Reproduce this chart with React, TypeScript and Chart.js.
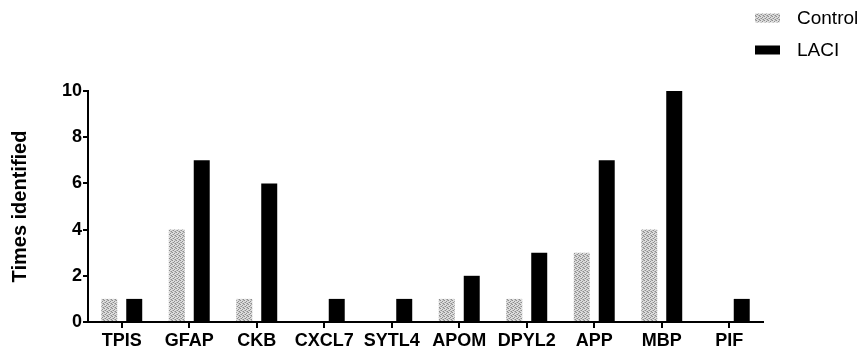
import React, { useEffect, useRef } from 'react';
import { Chart, registerables } from 'chart.js';

Chart.register(...registerables);

const categories = ['TPIS', 'GFAP', 'CKB', 'CXCL7', 'SYTL4', 'APOM', 'DPYL2', 'APP', 'MBP', 'PIF'];
const controlValues = [1, 4, 1, 0, 0, 1, 1, 3, 4, 0];
const laciValues = [1, 7, 6, 1, 1, 2, 3, 7, 10, 1];
const seriesLabels = ['Control', 'LACI'];
const yAxisTitle = 'Times identified';
const yMin = 0;
const yMax = 10;
const yStep = 2;

const FONT = '"Liberation Sans", Arial, Helvetica, sans-serif';

function makePattern(): CanvasPattern | string {
  const pc = document.createElement('canvas');
  pc.width = 4;
  pc.height = 4;
  const c = pc.getContext('2d');
  if (!c) return '#c8c8c8';
  c.fillStyle = '#dcdcdc';
  c.fillRect(0, 0, 4, 4);
  c.fillStyle = '#8e8e8e';
  c.fillRect(0, 0, 1, 1);
  c.fillRect(2, 1, 1, 1);
  c.fillRect(1, 2, 1, 1);
  c.fillRect(3, 3, 1, 1);
  c.fillStyle = '#b4b4b4';
  c.fillRect(2, 3, 1, 1);
  c.fillRect(0, 2, 1, 1);
  c.fillRect(3, 0, 1, 1);
  const p = c.createPattern(pc, 'repeat');
  return p || '#c8c8c8';
}

const legendPlugin = {
  id: 'customLegend',
  afterDraw(chart: any) {
    const ctx = chart.ctx;
    ctx.save();
    const rows = [18, 50];
    chart.data.datasets.forEach((ds: any, i: number) => {
      const y = rows[i];
      ctx.fillStyle = ds.backgroundColor;
      ctx.fillRect(755, y - 4.5, 25, 9);
      ctx.fillStyle = '#000';
      ctx.font = `19px ${FONT}`;
      ctx.textBaseline = 'middle';
      ctx.textAlign = 'left';
      ctx.fillText(ds.label, 797, y + 1);
    });
    ctx.restore();
  },
};

export default function App() {
  const ref = useRef<HTMLCanvasElement>(null);

  useEffect(() => {
    if (!ref.current) return;
    const pattern = makePattern();
    const chart = new Chart(ref.current, {
      type: 'bar',
      data: {
        labels: categories,
        datasets: [
          {
            label: seriesLabels[0],
            data: controlValues,
            backgroundColor: pattern as any,
            borderWidth: 0,
            categoryPercentage: 0.74,
            barPercentage: 0.64,
          },
          {
            label: seriesLabels[1],
            data: laciValues,
            backgroundColor: '#000000',
            borderWidth: 0,
            categoryPercentage: 0.74,
            barPercentage: 0.64,
          },
        ],
      },
      options: {
        responsive: false,
        animation: false,
        devicePixelRatio: 1,
        layout: { padding: { top: 91, right: 98, left: 0, bottom: 0 } },
        plugins: {
          legend: { display: false },
          tooltip: { enabled: false },
        },
        scales: {
          x: {
            offset: true,
            grid: {
              display: true,
              drawOnChartArea: false,
              drawTicks: true,
              tickLength: 6,
              offset: false,
              color: '#000',
              lineWidth: 2,
            },
            border: { display: true, color: '#000', width: 2 },
            ticks: {
              color: '#000',
              font: { family: FONT, size: 18, weight: 'bold' },
              padding: 2,
              maxRotation: 0,
              autoSkip: false,
            },
            afterFit: (s: any) => {
              s.height = 27;
            },
          },
          y: {
            min: yMin,
            max: yMax,
            ticks: {
              stepSize: yStep,
              color: '#000',
              font: { family: FONT, size: 18, weight: 'bold' },
              padding: 1,
            },
            grid: {
              drawOnChartArea: false,
              drawTicks: true,
              tickLength: 5,
              color: '#000',
              lineWidth: 2,
            },
            border: { display: true, color: '#000', width: 2 },
            title: {
              display: true,
              text: yAxisTitle,
              color: '#000',
              font: { family: FONT, size: 20, weight: 'bold' },
              padding: { top: 8, bottom: 0 },
            },
            afterFit: (s: any) => {
              s.width = 88;
            },
          },
        },
      },
      plugins: [legendPlugin],
    });
    return () => chart.destroy();
  }, []);

  return (
    <div style={{ position: 'fixed', left: 0, top: 0, width: 861, height: 349, background: '#fff' }}>
      <canvas ref={ref} width={861} height={349} style={{ display: 'block' }} />
    </div>
  );
}
